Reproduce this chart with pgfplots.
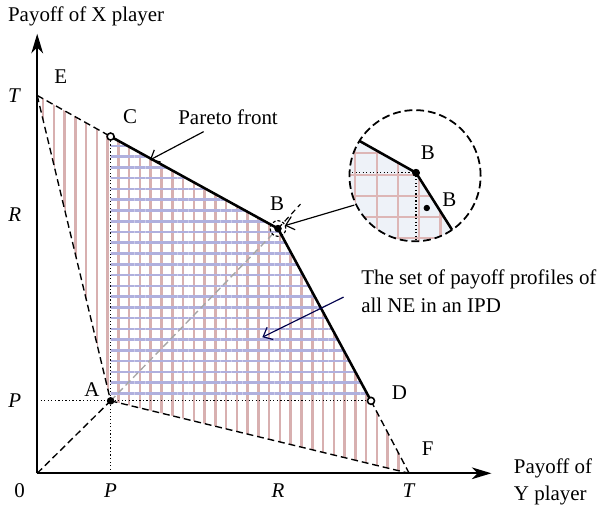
\documentclass[border=0pt]{standalone}
\usepackage{fontspec}
\setmainfont{Liberation Serif}
\usepackage{pgfplots}
\pgfplotsset{compat=1.18}
\usetikzlibrary{patterns.meta,arrows.meta}

\definecolor{vstripe}{HTML}{D8B0B0}
\definecolor{hstripe}{HTML}{B0B0DE}
\definecolor{insetfill}{HTML}{EEF2F8}
\definecolor{insetgrid}{HTML}{DDB6B6}

\begin{document}
\begin{tikzpicture}[font=\fontsize{10.7}{14}\selectfont]
\begin{axis}[
  x=0.5pt, y=0.5pt,
  xmin=0, xmax=464, ymin=0, ymax=449,
  axis lines=left,
  axis line style={line width=1pt, -{Stealth[length=10pt,width=6pt,inset=3pt]}},
  xtick={75,246,380}, xticklabels={\textit{P},\textit{R},\textit{T}},
  ytick={74,264,386}, yticklabels={\textit{P},\textit{R},\textit{T}},
  major tick length=0pt,
  xticklabel style={anchor=center, yshift=-9pt},
  yticklabel style={anchor=center, xshift=-11.5pt},
  clip=false,
]
% striped regions
\addplot[draw=none, pattern={Lines[angle=90,distance=5.5pt,line width=1.3pt]}, pattern color=vstripe]
  coordinates {(0,386) (75,344) (246,250) (341,74) (380,0) (75,74)} -- cycle;
\addplot[draw=none, pattern={Lines[angle=0,distance=5.5pt,line width=1.3pt]}, pattern color=hstripe]
  coordinates {(75,74) (75,344) (246,250) (341,74)} -- cycle;

% dotted guides
\addplot[black, line width=0.6pt, dash pattern=on 0.6pt off 1.2pt] coordinates {(0,74) (341,74)};
\addplot[black, line width=0.6pt, dash pattern=on 0.6pt off 1.2pt] coordinates {(75,0) (75,344)};

% dashed boundaries
\addplot[black, line width=0.7pt, dash pattern=on 3.5pt off 2pt] coordinates {(0,386) (75,344)};
\addplot[black, line width=0.7pt, dash pattern=on 3.5pt off 2pt] coordinates {(0,386) (75,74)};
\addplot[black, line width=0.7pt, dash pattern=on 3.5pt off 2pt] coordinates {(75,74) (380,0)};
\addplot[black, line width=0.7pt, dash pattern=on 3.5pt off 2pt] coordinates {(341,74) (380,0)};
\addplot[black, line width=0.7pt, dash pattern=on 3.5pt off 2pt] coordinates {(0,0) (75,74)};
\addplot[gray!70, line width=0.7pt, dash pattern=on 3.5pt off 2pt] coordinates {(75,74) (246,250)};
\addplot[black, line width=0.6pt, dash pattern=on 3pt off 2pt] coordinates {(246,250) (269,275)};

% Pareto front
\addplot[black, line width=1.3pt] coordinates {(75,344) (246,250) (341,74)};

% points
\addplot[only marks, mark=*, mark size=1.7pt, black] coordinates {(75,74) (246,250)};
\addplot[only marks, mark=*, mark size=1.8pt, mark options={fill=white, draw=black, line width=0.8pt}]
  coordinates {(75,344) (341,74)};
\draw[black, line width=0.6pt, dash pattern=on 1.5pt off 1pt] (axis cs:246,250) circle[radius=4pt];

% zoomed inset
\begin{scope}
  \clip (axis cs:386,304) circle[radius=33.5pt];
  \addplot[black, line width=0.7pt, dash pattern=on 0.6pt off 1.2pt] coordinates {(318,307) (387,307) (387,236)};
  \begin{scope}
    \clip (axis cs:300,356) -- (axis cs:387,307) -- (axis cs:435,231) -- (axis cs:300,231) -- cycle;
    \addplot[fill=insetfill, draw=none] coordinates {(300,231) (300,380) (460,380) (460,231)} -- cycle;
    \addplot[insetgrid, line width=1.1pt, unbounded coords=jump] coordinates {
      (325,230) (325,380) (nan,nan) (347,230) (347,380) (nan,nan) (369,230) (369,380) (nan,nan)
      (390,230) (390,380) (nan,nan) (412,230) (412,380) (nan,nan) (434,230) (434,380) (nan,nan)
      (300,327) (460,327) (nan,nan) (300,305) (460,305) (nan,nan) (300,283) (460,283) (nan,nan)
      (300,262) (460,262) (nan,nan) (300,240) (460,240)};
    \addplot[black, line width=0.7pt, dash pattern=on 0.6pt off 1.2pt] coordinates {(318,307) (387,307) (387,236)};
  \end{scope}
  \addplot[black, line width=1.3pt] coordinates {(300,356) (387,307) (435,231)};
  \addplot[only marks, mark=*, mark size=1.8pt, black] coordinates {(387,307)};
  \addplot[only marks, mark=*, mark size=1.4pt, black] coordinates {(398,271)};
\end{scope}
\draw[black, line width=0.9pt, dash pattern=on 4pt off 2pt] (axis cs:386,304) circle[radius=33.5pt];

% arrows
\draw[line width=0.6pt, -{Straight Barb[length=4pt,width=7pt]}] (axis cs:324,274) -- (axis cs:253,253);
\draw[line width=0.6pt, -{Straight Barb[length=4pt,width=7pt]}] (axis cs:170,349) -- (axis cs:115,320);
\draw[line width=0.6pt, black!70!blue, -{Straight Barb[length=4pt,width=7pt]}] (axis cs:313,180) -- (axis cs:230,139);

% texts
\node at (axis cs:50,467) {Payoff of X player};
\node[anchor=west, align=left] at (axis cs:480,-9) {Payoff of\\Y player};
\node at (axis cs:-18,-18) {0};
\node at (axis cs:24,405) {E};
\node at (axis cs:95,364) {C};
\node at (axis cs:245,275) {B};
\node at (axis cs:56,85) {A};
\node at (axis cs:370,82) {D};
\node at (axis cs:399,25) {F};
\node at (axis cs:399,328) {B};
\node at (axis cs:421,280) {B};
\node at (axis cs:195,364) {Pareto front};
\node[anchor=west, align=left] at (axis cs:324,186) {The set of payoff profiles of\\all NE in an IPD};

\path (axis cs:-38,-38) rectangle (axis cs:565,482);
\end{axis}
\end{tikzpicture}
\end{document}
